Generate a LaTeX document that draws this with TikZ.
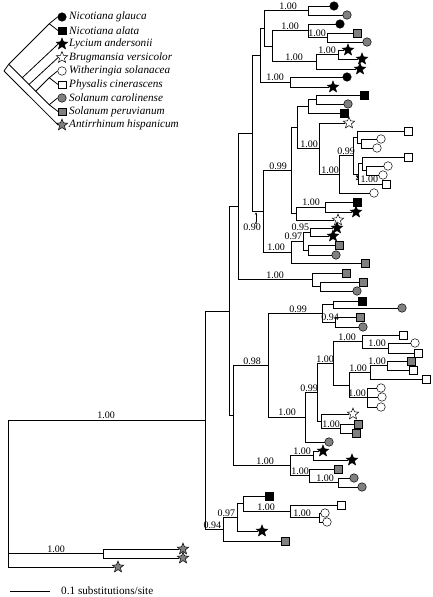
\documentclass[tikz,border=0pt]{standalone}
\usepackage{fontspec}
\setmainfont{Liberation Serif}
\usetikzlibrary{shapes.geometric,arrows.meta}
\definecolor{midgray}{gray}{0.5}
\tikzset{
  sym/.style={draw=black,line width=0.5pt,inner sep=0pt},
  bcirc/.style={sym,circle,fill=black,minimum size=8.5pt},
  gcirc/.style={sym,circle,fill=midgray,minimum size=8.5pt},
  wcirc/.style={sym,circle,fill=white,minimum size=8.5pt},
  bsq/.style={sym,rectangle,fill=black,minimum size=7.5pt},
  gsq/.style={sym,rectangle,fill=midgray,minimum size=7.5pt},
  wsq/.style={sym,rectangle,fill=white,minimum size=7.5pt},
  bstar/.style={sym,star,star points=5,star point ratio=2.3,fill=black,minimum size=12pt},
  gstar/.style={sym,star,star points=5,star point ratio=2.3,fill=midgray,minimum size=12pt},
  wstar/.style={sym,star,star points=5,star point ratio=2.3,fill=white,minimum size=12pt},
  lab/.style={anchor=south,inner sep=0.8pt,font=\fontsize{10}{11}\selectfont},
  taxon/.style={anchor=west,inner sep=0pt,font=\fontsize{11.2}{13}\selectfont\itshape},
  br/.style={draw=black,line width=0.8pt},
  elbow/.style={to path={|- (\tikztotarget)}},
  pointer/.style={draw=black,line width=0.5pt,-{Stealth[length=2.5pt,width=2.4pt]}},
}
\begin{document}
\begin{tikzpicture}[x=1pt,y=-1pt]
\useasboundingbox (0,0) rectangle (432,597);

\node[bcirc] (s1) at (62,17) {};
\node[bsq] (s2) at (62,30.5) {};
\node[bstar] (s3) at (62,44) {};
\node[wstar] (s4) at (62,57.5) {};
\node[wcirc] (s5) at (62,71) {};
\node[wsq] (s6) at (62,84.5) {};
\node[gcirc] (s7) at (62,98) {};
\node[gsq] (s8) at (62,111.5) {};
\node[gstar] (s9) at (62,125) {};
\node[taxon] (x1) at (69,17) {Nicotiana glauca};
\node[taxon] (x2) at (69,30.5) {Nicotiana alata};
\node[taxon] (x3) at (69,44) {Lycium andersonii};
\node[taxon] (x4) at (69,57.5) {Brugmansia versicolor};
\node[taxon] (x5) at (69,71) {Witheringia solanacea};
\node[taxon] (x6) at (69,84.5) {Physalis cinerascens};
\node[taxon] (x7) at (69,98) {Solanum carolinense};
\node[taxon] (x8) at (69,111.5) {Solanum peruvianum};
\node[taxon] (x9) at (69,125) {Antirrhinum hispanicum};
\coordinate (m0) at (4,71);
\coordinate (m1) at (8.75,64.25);
\coordinate (m2) at (49.25,23.75);
\coordinate (m3) at (22.25,77.75);
\coordinate (m4) at (29,84.5);
\coordinate (m5) at (35.75,91.25);
\coordinate (m6) at (49.25,77.75);
\coordinate (m7) at (49.25,104.75);
\path [br] (m0) edge (m1) edge (s9.west);
\path [br] (m1) edge (m2) edge (m3);
\path [br] (m2) edge (s1.west) edge (s2.west);
\path [br] (m3) edge (s3.west) edge (m4);
\path [br] (m4) edge (s4.west) edge (m5);
\path [br] (m5) edge (m6) edge (m7);
\path [br] (m6) edge (s5.west) edge (s6.west);
\path [br] (m7) edge (s7.west) edge (s8.west);

\node[bcirc] (t1) at (334,6) {};
\node[gcirc] (t2) at (347,15) {};
\node[bcirc] (t3) at (340,24) {};
\node[gsq] (t4) at (357,33) {};
\node[gcirc] (t5) at (367,42) {};
\node[bstar] (t6) at (348,50) {};
\node[bstar] (t7) at (362,59) {};
\node[bstar] (t8) at (360,69) {};
\node[bcirc] (t9) at (347,77) {};
\node[bstar] (t10) at (333,87) {};
\node[bsq] (t11) at (364,95) {};
\node[gcirc] (t12) at (348,104) {};
\node[bsq] (t13) at (344,113) {};
\node[wstar] (t14) at (349,123) {};
\node[wsq] (t15) at (408,131) {};
\node[wcirc] (t16) at (381,139) {};
\node[wcirc] (t17) at (377,148) {};
\node[wsq] (t18) at (408,157) {};
\node[wcirc] (t19) at (388,166) {};
\node[wcirc] (t20) at (383,175) {};
\node[wsq] (t21) at (386,184) {};
\node[wcirc] (t22) at (374,193) {};
\node[bsq] (t23) at (357,202) {};
\node[bstar] (t24) at (356,212) {};
\node[wstar] (t25) at (338,220) {};
\node[bstar] (t26) at (337,228) {};
\node[bstar] (t27) at (333,236) {};
\node[gsq] (t28) at (339,245) {};
\node[gcirc] (t29) at (336,255) {};
\node[gsq] (t30) at (365,263) {};
\node[gsq] (t31) at (346,273) {};
\node[gsq] (t32) at (363,282) {};
\node[gcirc] (t33) at (357,291) {};
\node[bsq] (t34) at (362,301) {};
\node[gcirc] (t35) at (402,308) {};
\node[gsq] (t36) at (360,317) {};
\node[gcirc] (t37) at (363,327) {};
\node[wsq] (t38) at (403,335) {};
\node[wcirc] (t39) at (415,343) {};
\node[wsq] (t40) at (418,353) {};
\node[gsq] (t41) at (411,361) {};
\node[wsq] (t42) at (413,370) {};
\node[wsq] (t43) at (426,379) {};
\node[wcirc] (t44) at (381,388) {};
\node[wcirc] (t45) at (382,397) {};
\node[wcirc] (t46) at (381,407) {};
\node[wstar] (t47) at (353,414) {};
\node[gsq] (t48) at (358,424) {};
\node[gsq] (t49) at (356,433) {};
\node[gcirc] (t50) at (329,442) {};
\node[bstar] (t51) at (323,451) {};
\node[bstar] (t52) at (352,460) {};
\node[gsq] (t53) at (338,469) {};
\node[gcirc] (t54) at (354,478) {};
\node[gcirc] (t55) at (362,487) {};
\node[bsq] (t56) at (269,496) {};
\node[wsq] (t57) at (341,505) {};
\node[wcirc] (t58) at (325,513) {};
\node[wcirc] (t59) at (327,522) {};
\node[bstar] (t60) at (262,531) {};
\node[gsq] (t61) at (285,541) {};
\node[gstar] (t62) at (183,549) {};
\node[gstar] (t63) at (183,558) {};
\node[gstar] (t64) at (118,567) {};

\coordinate (na1) at (308,10.5);
\coordinate (na2) at (327,37.5);
\coordinate (na3) at (308,30.75);
\coordinate (na4) at (338,54.5);
\coordinate (na5) at (316,61.75);
\coordinate (na6) at (272,46.25);
\coordinate (na7) at (264,28.4);
\coordinate (na8) at (290,82);
\coordinate (na9) at (260,55.2);
\coordinate (nb1) at (316,99.5);
\coordinate (nb2) at (308,106.25);
\coordinate (nc1) at (361,143.5);
\coordinate (nc2) at (357,137.25);
\coordinate (nc3) at (366,170.5);
\coordinate (nc4) at (362,163.75);
\coordinate (nc5) at (358,173.9);
\coordinate (nc6) at (353,155.6);
\coordinate (nc7) at (339,174.3);
\coordinate (nc8) at (319,148.65);
\coordinate (nb3) at (297,127.45);
\coordinate (nb4) at (325,207);
\coordinate (nb5) at (296,213.5);
\coordinate (nb6) at (291,170.5);
\coordinate (nd1) at (310,232);
\coordinate (nd2) at (308,250);
\coordinate (nd3) at (303,241);
\coordinate (nd4) at (291,252);
\coordinate (nv) at (263,211.25);
\coordinate (nt) at (252,133.2);
\coordinate (nu1) at (320,286.5);
\coordinate (nu2) at (312,279.75);
\coordinate (nq) at (238,206.5);
\coordinate (ne1) at (333,304.5);
\coordinate (ne2) at (335,322);
\coordinate (ne3) at (322,313.25);
\coordinate (nf1) at (388,348);
\coordinate (nf2) at (362,341.5);
\coordinate (nf3) at (387,365.5);
\coordinate (nf4) at (370,372.25);
\coordinate (nf5) at (367,397.5);
\coordinate (nl) at (349,384.9);
\coordinate (nf6) at (333,363.2);
\coordinate (ng1) at (340,428.5);
\coordinate (ng2) at (321,421.25);
\coordinate (ng3) at (317,392.2);
\coordinate (ng4) at (305,417.1);
\coordinate (ne4) at (268,365.2);
\coordinate (nh1) at (313,455.5);
\coordinate (nh2) at (338,482.5);
\coordinate (nh3) at (309,475.75);
\coordinate (nh4) at (290,465.6);
\coordinate (ns) at (233,415.4);
\coordinate (np) at (229,311);
\coordinate (nk1) at (319,517.5);
\coordinate (nk2) at (290,511.25);
\coordinate (nk3) at (243,503.6);
\coordinate (nk4) at (237,517.3);
\coordinate (nk5) at (223,529.2);
\coordinate (ni) at (205,420.1);
\coordinate (no) at (103,553.5);
\coordinate (nr) at (8,493.5);

\path [br] (na1) edge[elbow] (t1) edge[elbow] (t2);
\path [br] (na2) edge[elbow] (t4) edge[elbow] (t5);
\path [br] (na3) edge[elbow] (t3) edge[elbow] (na2);
\path [br] (na4) edge[elbow] (t6) edge[elbow] (t7);
\path [br] (na5) edge[elbow] (na4) edge[elbow] (t8);
\path [br] (na6) edge[elbow] (na3) edge[elbow] (na5);
\path [br] (na7) edge[elbow] (na1) edge[elbow] (na6);
\path [br] (na8) edge[elbow] (t9) edge[elbow] (t10);
\path [br] (na9) edge[elbow] (na7) edge[elbow] (na8);
\path [br] (nb1) edge[elbow] (t11) edge[elbow] (t12);
\path [br] (nb2) edge[elbow] (nb1) edge[elbow] (t13);
\path [br] (nc1) edge[elbow] (t16) edge[elbow] (t17);
\path [br] (nc2) edge[elbow] (t15) edge[elbow] (nc1);
\path [br] (nc3) edge[elbow] (t19) edge[elbow] (t20);
\path [br] (nc4) edge[elbow] (t18) edge[elbow] (nc3);
\path [br] (nc5) edge[elbow] (nc4) edge[elbow] (t21);
\path [br] (nc6) edge[elbow] (nc2) edge[elbow] (nc5);
\path [br] (nc7) edge[elbow] (nc6) edge[elbow] (t22);
\path [br] (nc8) edge[elbow] (t14) edge[elbow] (nc7);
\path [br] (nb3) edge[elbow] (nb2) edge[elbow] (nc8);
\path [br] (nb4) edge[elbow] (t23) edge[elbow] (t24);
\path [br] (nb5) edge[elbow] (nb4) edge[elbow] (t25);
\path [br] (nb6) edge[elbow] (nb3) edge[elbow] (nb5);
\path [br] (nd1) edge[elbow] (t26) edge[elbow] (t27);
\path [br] (nd2) edge[elbow] (t28) edge[elbow] (t29);
\path [br] (nd3) edge[elbow] (nd1) edge[elbow] (nd2);
\path [br] (nd4) edge[elbow] (nd3) edge[elbow] (t30);
\path [br] (nv) edge[elbow] (nb6) edge[elbow] (nd4);
\path [br] (nt) edge[elbow] (na9) edge[elbow] (nv);
\path [br] (nu1) edge[elbow] (t32) edge[elbow] (t33);
\path [br] (nu2) edge[elbow] (t31) edge[elbow] (nu1);
\path [br] (nq) edge[elbow] (nt) edge[elbow] (nu2);
\path [br] (ne1) edge[elbow] (t34) edge[elbow] (t35);
\path [br] (ne2) edge[elbow] (t36) edge[elbow] (t37);
\path [br] (ne3) edge[elbow] (ne1) edge[elbow] (ne2);
\path [br] (nf1) edge[elbow] (t39) edge[elbow] (t40);
\path [br] (nf2) edge[elbow] (t38) edge[elbow] (nf1);
\path [br] (nf3) edge[elbow] (t41) edge[elbow] (t42);
\path [br] (nf4) edge[elbow] (nf3) edge[elbow] (t43);
\path [br] (nf5) edge[elbow] (t44) edge[elbow] (t45) edge[elbow] (t46);
\path [br] (nl) edge[elbow] (nf4) edge[elbow] (nf5);
\path [br] (nf6) edge[elbow] (nf2) edge[elbow] (nl);
\path [br] (ng1) edge[elbow] (t48) edge[elbow] (t49);
\path [br] (ng2) edge[elbow] (t47) edge[elbow] (ng1);
\path [br] (ng3) edge[elbow] (nf6) edge[elbow] (ng2);
\path [br] (ng4) edge[elbow] (ng3) edge[elbow] (t50);
\path [br] (ne4) edge[elbow] (ne3) edge[elbow] (ng4);
\path [br] (nh1) edge[elbow] (t51) edge[elbow] (t52);
\path [br] (nh2) edge[elbow] (t54) edge[elbow] (t55);
\path [br] (nh3) edge[elbow] (t53) edge[elbow] (nh2);
\path [br] (nh4) edge[elbow] (nh1) edge[elbow] (nh3);
\path [br] (ns) edge[elbow] (ne4) edge[elbow] (nh4);
\path [br] (np) edge[elbow] (nq) edge[elbow] (ns);
\path [br] (nk1) edge[elbow] (t58) edge[elbow] (t59);
\path [br] (nk2) edge[elbow] (t57) edge[elbow] (nk1);
\path [br] (nk3) edge[elbow] (t56) edge[elbow] (nk2);
\path [br] (nk4) edge[elbow] (nk3) edge[elbow] (t60);
\path [br] (nk5) edge[elbow] (nk4) edge[elbow] (t61);
\path [br] (ni) edge[elbow] (np) edge[elbow] (nk5);
\path [br] (no) edge[elbow] (t62) edge[elbow] (t63);
\path [br] (nr) edge[elbow] (ni) edge[elbow] (no) edge[elbow] (t64);

\node[lab] (l1) at (288,10.5) {1.00};
\node[lab] (l2) at (290,30.75) {1.00};
\node[lab] (l3) at (317,37.5) {1.00};
\node[lab] (l4) at (327,54.5) {1.00};
\node[lab] (l5) at (294,61.75) {1.00};
\node[lab] (l6) at (275,82) {1.00};
\node[lab] (l7) at (309,148.65) {1.00};
\node[lab] (l8) at (330,174.3) {1.00};
\node[lab] (l9) at (346,155.6) {0.99};
\node[lab] (l10) at (278,170.5) {0.99};
\node[lab] (l11) at (311,207) {1.00};
\node[lab,anchor=south east] (l12) at (310,232) {0.95};
\node[lab,anchor=south east] (l13) at (303,241) {0.97};
\node[lab] (l14) at (276,252) {1.00};
\node[lab] (l15) at (275,279.75) {1.00};
\node[lab] (l16) at (298,313.25) {0.99};
\node[lab] (l17) at (330,322) {0.94};
\node[lab] (l18) at (347,341.5) {1.00};
\node[lab] (l19) at (377,348) {1.00};
\node[lab] (l20) at (325,363.2) {1.00};
\node[lab] (l21) at (377,365.5) {1.00};
\node[lab] (l22) at (358,372.25) {1.00};
\node[lab] (l23) at (357,397.5) {1.00};
\node[lab] (l24) at (331,428.5) {1.00};
\node[lab] (l25) at (309,392.2) {0.99};
\node[lab] (l26) at (287,417.1) {1.00};
\node[lab] (l27) at (252,365.2) {0.98};
\node[lab] (l28) at (302,455.5) {1.00};
\node[lab] (l29) at (325,482.5) {1.00};
\node[lab] (l30) at (300,475.75) {1.00};
\node[lab] (l31) at (265,465.6) {1.00};
\node[lab] (l32) at (302,517.5) {1.00};
\node[lab] (l33) at (266,511.25) {1.00};
\node[lab,anchor=south east] (l34) at (236,517.3) {0.97};
\node[lab,anchor=south east] (l35) at (222,529.2) {0.94};
\node[lab] (l36) at (106,420.1) {1.00};
\node[lab] (l37) at (56,553.5) {1.00};
\node[lab,anchor=center] (l38) at (252,227.5) {0.90};
\node[lab,anchor=south west] (l39) at (359.5,184) {1.00};
\coordinate (a1) at (256,221.5);
\coordinate (a2) at (256,212.3);
\coordinate (a3) at (357,177.8);
\coordinate (a4) at (357,174.6);
\path [pointer] (a1) edge (a2);
\path [pointer] (a3) edge (a4);

\coordinate (sb0) at (10,591);
\coordinate (sb1) at (50,591);
\path [br] (sb0) edge (sb1);
\node[anchor=west,inner sep=0pt,font=\fontsize{11.2}{13}\selectfont] (sbl) at (61,591) {0.1 substitutions/site};
\end{tikzpicture}
\end{document}
